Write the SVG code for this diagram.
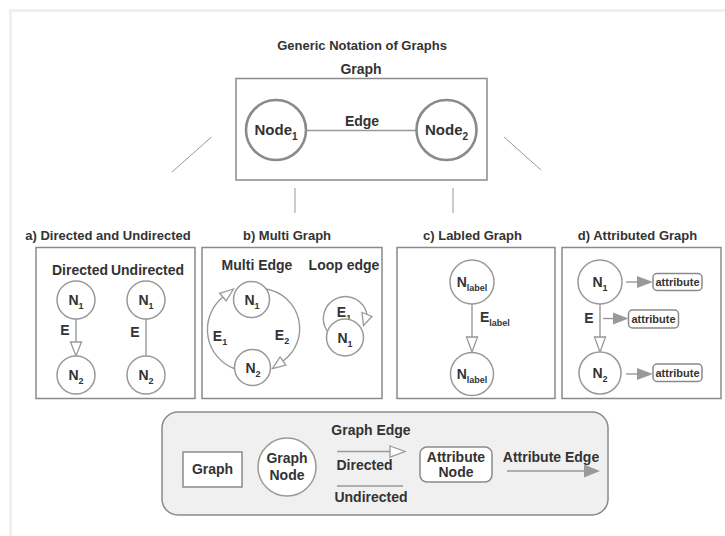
<svg xmlns="http://www.w3.org/2000/svg" width="725" height="536" viewBox="0 0 725 536">
  <style>
    text { font-family: "Liberation Sans", Arial, sans-serif; font-weight: bold; fill: #333; text-anchor: middle; }
    .t13 { font-size: 13px; }
    .t14 { font-size: 14px; }
    .t15 { font-size: 15px; }
    .small { font-size: 11px; }
    .box { fill: #fff; stroke: #8a8a8a; stroke-width: 1.5; }
    .node { fill: #fff; stroke: #999; stroke-width: 1.5; }
    .bignode { fill: #fff; stroke: #8a8a8a; stroke-width: 2.6; }
    .edge { fill: none; stroke: #999; stroke-width: 1.4; }
    .open { fill: #fff; stroke: #999; stroke-width: 1.3; }
    .solid { fill: #999; stroke: none; }
    .attr { fill: #fff; stroke: #8a8a8a; stroke-width: 1.5; }
    .link { stroke: #999; stroke-width: 1; }
  </style>

  <!-- page frame -->
  <rect x="0" y="0" width="725" height="536" fill="#fff"/>
  <rect x="10.5" y="10.5" width="800" height="600" fill="none" stroke="#efefef" stroke-width="3"/>

  <text class="t13" x="362" y="50">Generic Notation of Graphs</text>

  <!-- generic graph -->
  <g id="graph">
    <text class="t14" x="361" y="73.5">Graph</text>
    <rect class="box" x="236" y="78.5" width="251" height="101.5" stroke-width="2"/>
    <line class="edge" x1="306" y1="130.5" x2="417" y2="130.5"/>
    <text class="t14" x="362" y="126">Edge</text>
    <g id="node1">
      <circle class="bignode" cx="276" cy="130" r="30"/>
      <text class="t15" x="276" y="135">Node<tspan font-size="10" dy="5">1</tspan></text>
    </g>
    <g id="node2">
      <circle class="bignode" cx="446.5" cy="130" r="30"/>
      <text class="t15" x="446.5" y="135">Node<tspan font-size="10" dy="5">2</tspan></text>
    </g>
  </g>

  <!-- links from the generic graph to the four variants -->
  <g id="connectors">
    <line class="link" x1="211.5" y1="137" x2="172" y2="172"/>
    <line class="link" x1="295" y1="188" x2="295" y2="213"/>
    <line class="link" x1="453" y1="188" x2="453" y2="213"/>
    <line class="link" x1="504" y1="137" x2="541" y2="170"/>
  </g>

  <!-- a) directed and undirected -->
  <g id="panel-a">
    <text class="t13" x="108" y="240">a) Directed and Undirected</text>
    <rect class="box" x="36" y="247.5" width="159" height="151"/>
    <text class="t14" x="80" y="275">Directed</text>
    <text class="t14" x="147.5" y="275">Undirected</text>
    <line class="edge" x1="76" y1="319" x2="76" y2="342"/>
    <path class="open" d="M70.5,342 L81.5,342 L76,356 Z"/>
    <text class="t14" x="65" y="335">E</text>
    <line class="edge" x1="146" y1="319" x2="146" y2="356"/>
    <text class="t14" x="135" y="337">E</text>
    <g id="a-n1"><circle class="node" cx="76" cy="300" r="19"/><text class="t14" x="76" y="305">N<tspan font-size="9" dy="4">1</tspan></text></g>
    <g id="a-n2"><circle class="node" cx="76" cy="375" r="19"/><text class="t14" x="76" y="380">N<tspan font-size="9" dy="4">2</tspan></text></g>
    <g id="a-n3"><circle class="node" cx="146" cy="300" r="19"/><text class="t14" x="146" y="305">N<tspan font-size="9" dy="4">1</tspan></text></g>
    <g id="a-n4"><circle class="node" cx="146" cy="375" r="19"/><text class="t14" x="146" y="380">N<tspan font-size="9" dy="4">2</tspan></text></g>
  </g>

  <!-- b) multi graph -->
  <g id="panel-b">
    <text class="t13" x="287" y="240">b) Multi Graph</text>
    <rect class="box" x="202" y="247.5" width="180" height="151"/>
    <text class="t14" x="257" y="270">Multi Edge</text>
    <text class="t14" x="344" y="270">Loop edge</text>
    <!-- two parallel edges bowing out left and right -->
    <path class="edge" d="M235,369 A42,42 0 0 1 222.9,297"/>
    <path class="edge" d="M266,289 A40,40 0 0 1 283,361"/>
    <path class="open" d="M233.5,289 L219.6,293.3 L226.2,300.8 Z"/>
    <path class="open" d="M272.4,368.6 L285.9,365.1 L280.1,356.9 Z"/>
    <text class="t14" x="220" y="341">E<tspan font-size="9" dy="4">1</tspan></text>
    <text class="t14" x="282" y="340">E<tspan font-size="9" dy="4">2</tspan></text>
    <g id="b-n1"><circle class="node" cx="251.5" cy="299.5" r="18"/><text class="t14" x="252" y="305">N<tspan font-size="9" dy="4">1</tspan></text></g>
    <g id="b-n2"><circle class="node" cx="252.5" cy="367.5" r="18"/><text class="t14" x="253" y="373">N<tspan font-size="9" dy="4">2</tspan></text></g>
    <!-- self loop -->
    <path class="edge" d="M327.5,331.4 A22,22 0 1 1 367,314.5"/>
    <path class="open" d="M362,312.5 L372,316.5 L363.5,325.5 Z"/>
    <text class="t14" x="344" y="317">E<tspan font-size="9" dy="4">1</tspan></text>
    <g id="b-loop"><circle class="node" cx="345" cy="337.5" r="18.5"/><text class="t14" x="345" y="343">N<tspan font-size="9" dy="4">1</tspan></text></g>
  </g>

  <!-- c) labelled graph -->
  <g id="panel-c">
    <text class="t13" x="472.5" y="240">c) Labled Graph</text>
    <rect class="box" x="397" y="247.5" width="158" height="151"/>
    <line class="edge" x1="472" y1="304" x2="472" y2="337"/>
    <path class="open" d="M466.5,337 L477.5,337 L472,352 Z"/>
    <text class="t14" x="480" y="322" style="text-anchor:start">E<tspan font-size="9" dy="4">label</tspan></text>
    <g id="c-n1"><circle class="node" cx="472" cy="282" r="22"/><text class="t14" x="472" y="287">N<tspan font-size="9" dy="4">label</tspan></text></g>
    <g id="c-n2"><circle class="node" cx="472" cy="374" r="21.5"/><text class="t14" x="472" y="379">N<tspan font-size="9" dy="4">label</tspan></text></g>
  </g>

  <!-- d) attributed graph -->
  <g id="panel-d">
    <text class="t13" x="637.5" y="240">d) Attributed Graph</text>
    <rect class="box" x="562" y="247.5" width="159" height="151"/>
    <line class="edge" x1="600" y1="304" x2="600" y2="337"/>
    <path class="open" d="M594.5,337 L605.5,337 L600,352 Z"/>
    <text class="t14" x="589" y="323">E</text>
    <line class="edge" x1="626" y1="282" x2="638" y2="282"/>
    <path class="solid" d="M637,276 L653,282 L637,288 Z"/>
    <line class="edge" x1="603" y1="318.5" x2="614" y2="318.5"/>
    <path class="solid" d="M613,312.5 L628.5,318.5 L613,324.5 Z"/>
    <line class="edge" x1="626" y1="374" x2="638" y2="374"/>
    <path class="solid" d="M637,368 L653,374 L637,380 Z"/>
    <g id="d-a1"><rect class="attr" x="653" y="273.5" width="49" height="17" rx="4"/><text class="small" x="677.5" y="285.5">attribute</text></g>
    <g id="d-a2"><rect class="attr" x="628.5" y="310" width="50" height="18" rx="4"/><text class="small" x="653.5" y="322.5">attribute</text></g>
    <g id="d-a3"><rect class="attr" x="653" y="364" width="49" height="17.5" rx="4"/><text class="small" x="677.5" y="376.5">attribute</text></g>
    <g id="d-n1"><circle class="node" cx="600" cy="282" r="22"/><text class="t14" x="600" y="287">N<tspan font-size="9" dy="4">1</tspan></text></g>
    <g id="d-n2"><circle class="node" cx="600" cy="373" r="21"/><text class="t14" x="600" y="378">N<tspan font-size="9" dy="4">2</tspan></text></g>
  </g>

  <!-- legend -->
  <g id="legend">
    <rect x="162" y="412" width="446" height="103" rx="16" fill="#f0f0f0" stroke="#8a8a8a" stroke-width="1.5"/>
    <g id="legend-graph">
      <rect class="box" x="183" y="452" width="59" height="35" stroke-width="2"/>
      <text class="t14" x="212.5" y="474">Graph</text>
    </g>
    <g id="legend-node">
      <circle class="node" cx="287" cy="467" r="29"/>
      <text class="t14" x="287" y="463">Graph</text>
      <text class="t14" x="287" y="480">Node</text>
    </g>
    <g id="legend-edge">
      <text class="t14" x="371" y="435">Graph Edge</text>
      <line class="edge" x1="337" y1="451.5" x2="391" y2="451.5"/>
      <path class="open" d="M390,446 L405,451.5 L390,457 Z"/>
      <text class="t14" x="364.5" y="470">Directed</text>
      <line class="edge" x1="337" y1="486" x2="403" y2="486"/>
      <text class="t14" x="371" y="502">Undirected</text>
    </g>
    <g id="legend-attr">
      <rect class="attr" x="420" y="447" width="72" height="35" rx="7"/>
      <text class="t14" x="456" y="462">Attribute</text>
      <text class="t14" x="456" y="477">Node</text>
    </g>
    <g id="legend-attr-edge">
      <text class="t14" x="551" y="462">Attribute Edge</text>
      <line class="edge" x1="507" y1="471" x2="585" y2="471"/>
      <path class="solid" d="M584,464.5 L600,471 L584,477.5 Z"/>
    </g>
  </g>
</svg>
